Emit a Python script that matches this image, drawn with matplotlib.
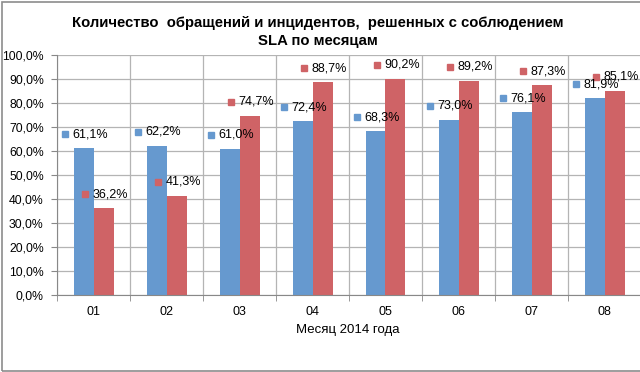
import matplotlib
matplotlib.use('Agg')
import matplotlib.pyplot as plt
from matplotlib.patches import Rectangle
from matplotlib.ticker import FuncFormatter, MultipleLocator, FixedLocator
from matplotlib.transforms import offset_copy
import numpy as np

plt.rcParams['font.family'] = ['Liberation Sans', 'DejaVu Sans']

# данные с графика
months = ['01', '02', '03', '04', '05', '06', '07', '08']
series_blue = [61.1, 62.2, 61.0, 72.4, 68.3, 73.0, 76.1, 81.9]
series_red = [36.2, 41.3, 74.7, 88.7, 90.2, 89.2, 87.3, 85.1]

title = 'Количество  обращений и инцидентов,  решенных с соблюдением\nSLA по месяцам'
xlabel = 'Месяц 2014 года'

blue = '#6699cf'
red = '#cf6366'
grid_color = '#b4b4b4'

fig = plt.figure(figsize=(6.4, 3.72), dpi=100)
ax = fig.add_axes([57 / 640, 1 - 295 / 372, 584 / 640, 240 / 372])

x = np.arange(len(months))
w = 20 / 73
ax.bar(x - w / 2, series_blue, width=w, color=blue, zorder=3)
ax.bar(x + w / 2, series_red, width=w, color=red, zorder=3)

ax.set_xlim(-0.5, len(months) - 0.5)
ax.set_ylim(0, 100)

# подписи данных с квадратиком-маркером
def fmt(v):
    return f'{v:.1f}%'.replace('.', ',')

for values, xs, color in [(series_blue, x - w / 2, blue), (series_red, x + w / 2, red)]:
    for xi, v in zip(xs, values):
        tr = offset_copy(ax.transData, fig=fig, x=-19, y=14, units='dots')
        ax.plot([xi], [v], marker='s', markersize=4.3, color=color, transform=tr,
                clip_on=False, zorder=5)
        ax.annotate(fmt(v), xy=(xi, v), xytext=(-11, 14), textcoords='offset pixels',
                    ha='left', va='center', fontsize=9, zorder=6, annotation_clip=False)

# оси и сетка
ax.yaxis.set_major_locator(MultipleLocator(10))
ax.yaxis.set_major_formatter(FuncFormatter(lambda v, p: f'{v:.1f}%'.replace('.', ',')))
ax.set_xticks(x)
ax.set_xticklabels(months)
ax.xaxis.set_minor_locator(FixedLocator(np.arange(-0.5, len(months), 1.0)))
ax.tick_params(axis='x', which='major', length=0, pad=8, labelsize=9)
ax.tick_params(axis='x', which='minor', length=4, color='#888888', direction='out')
ax.tick_params(axis='y', length=4.5, color='#888888', pad=5, labelsize=8.8)

ax.grid(axis='y', which='major', color=grid_color, linewidth=0.9, zorder=0)
ax.grid(axis='x', which='minor', color=grid_color, linewidth=0.9, zorder=0)
for side in ['top', 'right']:
    ax.spines[side].set_visible(False)
for side in ['left', 'bottom']:
    ax.spines[side].set_color('#888888')
    ax.spines[side].set_zorder(4)

fig.text(348 / 640, 1 - 330 / 372, xlabel, ha='center', va='center', fontsize=9.5)
fig.text(318 / 640, 1 - 32 / 372, title, ha='center', va='center', fontsize=10.7,
         fontweight='bold', linespacing=1.4)

# рамка вокруг диаграммы
fig.patches.append(Rectangle((1.5 / 640, 1.5 / 372), 1.0, 1 - 3 / 372, transform=fig.transFigure,
                             fill=False, edgecolor='#8c8c8c', linewidth=1.2))

fig.savefig('out.png', dpi=100)
